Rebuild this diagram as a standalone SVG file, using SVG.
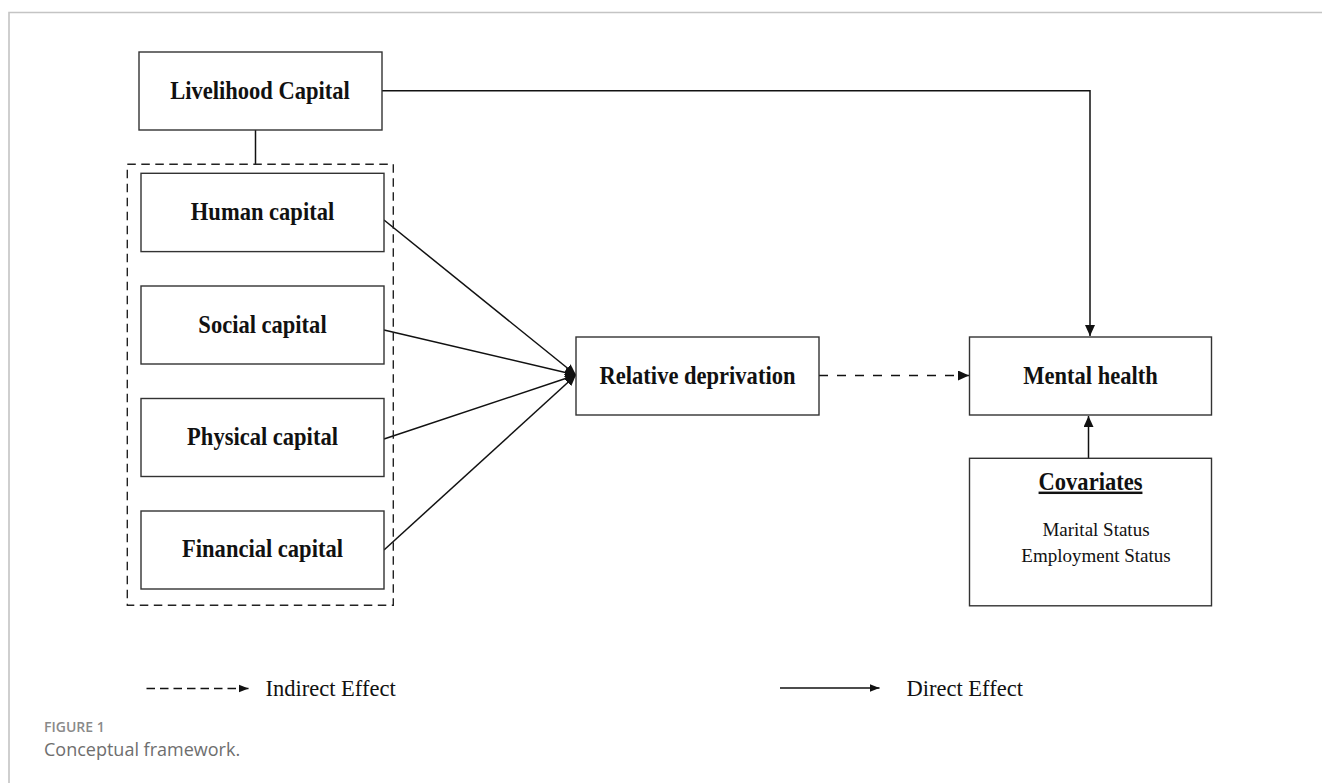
<svg xmlns="http://www.w3.org/2000/svg" width="1322" height="783" viewBox="0 0 1322 783">
<defs>
<style>
.box{fill:#fff;stroke:#333;stroke-width:1.4}
.lbl{font-family:"Liberation Serif","Times New Roman",serif;font-weight:bold;font-size:24.5px;fill:#111;text-anchor:middle}
.reg{font-family:"Liberation Serif","Times New Roman",serif;font-size:19px;fill:#111;text-anchor:middle}
.leg{font-family:"Liberation Serif","Times New Roman",serif;font-size:22.5px;fill:#111}
.ln{fill:none;stroke:#111;stroke-width:1.5}
.dash{fill:none;stroke:#111;stroke-width:1.5;stroke-dasharray:9 9}
</style>
<marker id="ah" markerUnits="userSpaceOnUse" markerWidth="12" markerHeight="10" refX="11" refY="5" orient="auto">
<path d="M0,0 L11,5 L0,10 Z" fill="#111"/>
</marker>
<marker id="ahs" markerUnits="userSpaceOnUse" markerWidth="10" markerHeight="9" refX="10" refY="4.5" orient="auto">
<path d="M0,0.5 L10,4.5 L0,8.5 Z" fill="#111"/>
</marker>
</defs>
<rect width="1322" height="783" fill="#fff"/>
<g id="frame">
<path d="M9,783 V12.5 H1322" fill="none" stroke="#c4c4c4" stroke-width="1.6"/>
</g>
<g id="connectors">
<line class="ln" x1="255.5" y1="130" x2="255.5" y2="164"/>
<polyline class="ln" points="382,90.7 1090,90.7 1090,336" marker-end="url(#ah)"/>
<line class="ln" x1="384" y1="220" x2="576" y2="375" marker-end="url(#ah)"/>
<line class="ln" x1="384" y1="330" x2="576" y2="375" marker-end="url(#ah)"/>
<line class="ln" x1="384" y1="439" x2="576" y2="375" marker-end="url(#ah)"/>
<line class="ln" x1="384" y1="550" x2="576" y2="375" marker-end="url(#ah)"/>
<line class="dash" x1="819" y1="375.5" x2="969" y2="375.5" marker-end="url(#ah)"/>
<line class="ln" x1="1088.5" y1="458" x2="1088.5" y2="416" marker-end="url(#ah)"/>
</g>
<g id="group-capitals">
<rect x="127.3" y="164.3" width="266" height="441" fill="none" stroke="#222" stroke-width="1.4" stroke-dasharray="8.5 5.5"/>
</g>
<g id="livelihood">
<rect class="box" x="139" y="52" width="243" height="78"/>
<text class="lbl" transform="translate(260,98.5) scale(0.92,1)">Livelihood Capital</text>
</g>
<g id="human">
<rect class="box" x="141" y="173.3" width="243" height="78.3"/>
<text class="lbl" transform="translate(262.5,220) scale(0.92,1)">Human capital</text>
</g>
<g id="social">
<rect class="box" x="141" y="286" width="243" height="78"/>
<text class="lbl" transform="translate(262.5,332.5) scale(0.92,1)">Social capital</text>
</g>
<g id="physical">
<rect class="box" x="141" y="398.5" width="243" height="78"/>
<text class="lbl" transform="translate(262.5,444.5) scale(0.92,1)">Physical capital</text>
</g>
<g id="financial">
<rect class="box" x="141" y="511" width="243" height="78"/>
<text class="lbl" transform="translate(262.5,557) scale(0.92,1)">Financial capital</text>
</g>
<g id="relative">
<rect class="box" x="576" y="337" width="243" height="78"/>
<text class="lbl" transform="translate(697.5,383.5) scale(0.92,1)">Relative deprivation</text>
</g>
<g id="mental">
<rect class="box" x="969.5" y="337" width="242" height="78"/>
<text class="lbl" transform="translate(1090.5,383.5) scale(0.92,1)">Mental health</text>
</g>
<g id="covariates">
<rect class="box" x="969.5" y="458.3" width="242" height="147.5"/>
<text class="lbl" transform="translate(1090.5,489.5) scale(0.92,1)" text-decoration="underline">Covariates</text>
<text class="reg" x="1096" y="536">Marital Status</text>
<text class="reg" x="1096" y="562">Employment Status</text>
</g>
<g id="legend">
<line x1="146.5" y1="688.5" x2="248.5" y2="688.5" stroke="#111" stroke-width="1.5" stroke-dasharray="8.5 5" marker-end="url(#ahs)"/>
<text class="leg" x="265.5" y="695.5">Indirect Effect</text>
<line class="ln" x1="780" y1="688" x2="879.5" y2="688" marker-end="url(#ahs)"/>
<text class="leg" x="906.5" y="695.5">Direct Effect</text>
</g>
<g id="caption">
<text x="44" y="731.5" font-family="'Open Sans',sans-serif" font-weight="600" font-size="14" fill="#8a8a8a">FIGURE 1</text>
<text x="44" y="756" font-family="'Open Sans',sans-serif" font-size="18" fill="#6e6e6e">Conceptual framework.</text>
</g>
</svg>
